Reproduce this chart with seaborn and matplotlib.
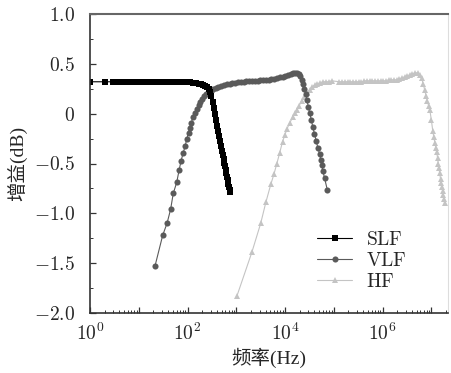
import numpy as np
import pandas as pd
import matplotlib
matplotlib.use("Agg")
import matplotlib.pyplot as plt
import matplotlib.ticker as mticker
from matplotlib.lines import Line2D
import seaborn as sns

# ---------------- data ----------------
series_names = ["SLF", "VLF", "HF"]

slf_freq = [1, 2, 3, 4, 5, 6, 7, 8, 9, 10,
            12, 14, 17, 20, 24, 28, 33, 39, 46, 54, 63, 74, 87, 100,
            115, 130, 150, 170, 190, 210, 230,
            250, 270, 290, 310, 330, 350,
            370, 390, 410, 430, 450, 470, 490, 510, 530, 550, 570, 590,
            610, 630, 650, 670, 690, 710, 730, 745]
slf_gain = [0.32, 0.32, 0.32, 0.32, 0.32, 0.32, 0.32, 0.32, 0.32, 0.32,
            0.32, 0.32, 0.32, 0.32, 0.32, 0.32, 0.32, 0.32, 0.32, 0.32, 0.32, 0.32, 0.32, 0.32,
            0.32, 0.31, 0.31, 0.30, 0.30, 0.29, 0.28,
            0.27, 0.25, 0.22, 0.18, 0.12, 0.06,
            0.00, -0.06, -0.12, -0.17, -0.22, -0.27, -0.32, -0.37, -0.41, -0.45, -0.49, -0.53,
            -0.57, -0.60, -0.64, -0.67, -0.71, -0.74, -0.77, -0.79]

vlf_freq = [21.5, 31, 38, 45, 51, 60, 67, 74, 82, 90, 97, 105, 112, 120, 130, 142,
            155, 168, 182, 200, 220, 245, 270, 300, 340, 380, 430, 490, 560, 640,
            730, 830, 950, 1100, 1250, 1420, 1620, 1850, 2100, 2400, 2750, 3100,
            3550, 4050, 4600, 5250, 6000, 6850, 7800, 8900, 10100, 11500, 13100,
            14500, 16000, 17500, 19000, 20500, 22000, 23500, 25000, 26500, 28000,
            30000, 32000, 34500, 37000, 40000, 43500, 47000, 51000, 54000, 57000,
            60000, 65000, 74000]
vlf_gain = [-1.53, -1.22, -1.10, -0.96, -0.80, -0.69, -0.57, -0.47, -0.39, -0.32, -0.25,
            -0.19, -0.14, -0.09, -0.03, 0.01,
            0.05, 0.09, 0.12, 0.15, 0.18, 0.20, 0.22, 0.23, 0.25, 0.26, 0.27, 0.28, 0.29, 0.30,
            0.30, 0.31, 0.31, 0.32, 0.32, 0.32, 0.33, 0.33, 0.33, 0.33, 0.33, 0.34,
            0.34, 0.34, 0.34, 0.35, 0.35, 0.36, 0.37, 0.37, 0.38, 0.39, 0.40,
            0.41, 0.41, 0.41, 0.40, 0.38, 0.34, 0.30, 0.25, 0.20, 0.14,
            0.07, 0.01, -0.06, -0.13, -0.20, -0.27, -0.34, -0.40, -0.46, -0.52,
            -0.58, -0.65, -0.77]

hf_freq = [1030, 2090, 3170, 4040, 5100, 5900, 6800, 7800, 8900, 10000, 11000,
           12600, 14500, 16000, 17400, 19500, 22000, 25000, 28000, 32000, 36000,
           41000, 46000, 52000, 60000, 68000, 78000, 90000,
           130000, 150000, 170000, 195000, 220000, 250000, 285000, 325000, 370000,
           420000, 480000, 550000, 620000, 710000, 800000, 910000, 1030000, 1170000,
           1330000, 1500000, 1700000, 1950000, 2200000, 2500000, 2850000, 3200000,
           3600000, 4100000, 4600000, 5300000, 5800000, 6300000, 6800000, 7300000,
           7800000, 8300000, 8800000, 9300000, 10000000, 10700000, 11200000,
           11800000, 12400000, 12900000, 13400000, 13900000, 14400000, 14900000,
           15500000, 16000000, 16600000, 17100000, 17600000, 18200000, 18700000]
hf_gain = [-1.83, -1.39, -1.10, -0.89, -0.71, -0.61, -0.50, -0.39, -0.28, -0.21, -0.15,
           -0.09, -0.03, 0.01, 0.04, 0.08, 0.13, 0.17, 0.21, 0.24, 0.27,
           0.29, 0.30, 0.31, 0.32, 0.32, 0.32, 0.33,
           0.32, 0.32, 0.32, 0.32, 0.32, 0.32, 0.32, 0.32, 0.32,
           0.33, 0.33, 0.33, 0.33, 0.33, 0.33, 0.33, 0.33, 0.33,
           0.34, 0.34, 0.34, 0.34, 0.35, 0.36, 0.37, 0.38,
           0.39, 0.40, 0.41, 0.41, 0.39, 0.36, 0.30, 0.24,
           0.18, 0.13, 0.08, 0.04, -0.06, -0.17, -0.23,
           -0.29, -0.34, -0.38, -0.44, -0.50, -0.55, -0.60,
           -0.66, -0.70, -0.74, -0.78, -0.82, -0.86, -0.90]

x_label_exponents = [0, 2, 4, 6]
y_tick_values = [-2.0, -1.5, -1.0, -0.5, 0.0, 0.5, 1.0]
y_tick_labels = ["$-2.0$", "$-1.5$", "$-1.0$", "$-0.5$", "$0$", "$0.5$", "$1.0$"]

# ---------------- style ----------------
sns.set_style("ticks")
serif_cjk = ['Liberation Serif', 'Noto Sans CJK SC', 'DejaVu Sans']
plt.rcParams['font.family'] = serif_cjk
plt.rcParams['mathtext.fontset'] = 'cm'

colors = {"SLF": "#000000", "VLF": "#5a5a5a", "HF": "#c4c4c4"}
markers = {"SLF": "s", "VLF": "o", "HF": "^"}
msizes = {"SLF": 4.0, "VLF": 4.4, "HF": 5.0}

frames = []
for name, fr, gn in [("SLF", slf_freq, slf_gain), ("VLF", vlf_freq, vlf_gain),
                     ("HF", hf_freq, hf_gain)]:
    frames.append(pd.DataFrame({"freq": fr, "gain": gn, "band": name}))
df = pd.concat(frames, ignore_index=True)

fig = plt.figure(figsize=(4.51, 3.73), dpi=100)
ax = fig.add_axes([90 / 451, 1 - 313 / 373, 358 / 451, 299 / 373])

for name in ["HF", "VLF", "SLF"]:
    sub = df[df["band"] == name]
    sns.lineplot(data=sub, x="freq", y="gain", color=colors[name],
                 marker=markers[name], markersize=msizes[name],
                 markeredgewidth=0, linewidth=0.8, sort=False,
                 estimator=None, ax=ax, legend=False)

ax.set_xscale("log")
ax.set_xlim(1, 2.2e7)
ax.set_ylim(-2.0, 1.0)

ax.xaxis.set_major_locator(mticker.LogLocator(base=10, numticks=20))
ax.xaxis.set_minor_locator(mticker.LogLocator(base=10, subs=np.arange(2, 10), numticks=20))


def fmt(v, pos):
    e = int(round(np.log10(v)))
    return r"$10^{%d}$" % e if e in x_label_exponents else ""


ax.xaxis.set_major_formatter(mticker.FuncFormatter(fmt))
ax.xaxis.set_minor_formatter(mticker.NullFormatter())
ax.set_yticks(y_tick_values)
ax.set_yticklabels(y_tick_labels)
ax.yaxis.set_minor_locator(mticker.MultipleLocator(0.25))

ax.tick_params(axis="both", which="both", direction="in", labelsize=14,
               top=False, right=False, color="#333333")
ax.tick_params(axis="y", which="major", length=4, width=0.9, pad=11)
ax.tick_params(axis="x", which="major", length=4, width=0.9, pad=7)
ax.tick_params(axis="both", which="minor", length=2, width=0.7)

for s in ["left", "bottom"]:
    ax.spines[s].set_color("#333333")
    ax.spines[s].set_linewidth(1.2)
ax.spines["top"].set_color("#666666")
ax.spines["top"].set_linewidth(1.5)
ax.spines["right"].set_color("#dddddd")
ax.spines["right"].set_linewidth(0.8)

ax.set_xlabel("频率(Hz)", fontsize=14, labelpad=3, family=serif_cjk)
ax.set_ylabel("增益(dB)", fontsize=14, labelpad=4, family=serif_cjk)

handles = [Line2D([], [], color=colors[n], marker=markers[n], markersize=msizes[n],
                  markeredgewidth=0, linewidth=0.8) for n in series_names]
ax.legend(handles, ["$\\mathrm{%s}$" % n for n in series_names], frameon=False,
          loc="center", bbox_to_anchor=(0.76, 0.174), fontsize=14,
          handlelength=1.8, handletextpad=0.7, labelspacing=0.15)

fig.savefig("out.png", dpi=100)
